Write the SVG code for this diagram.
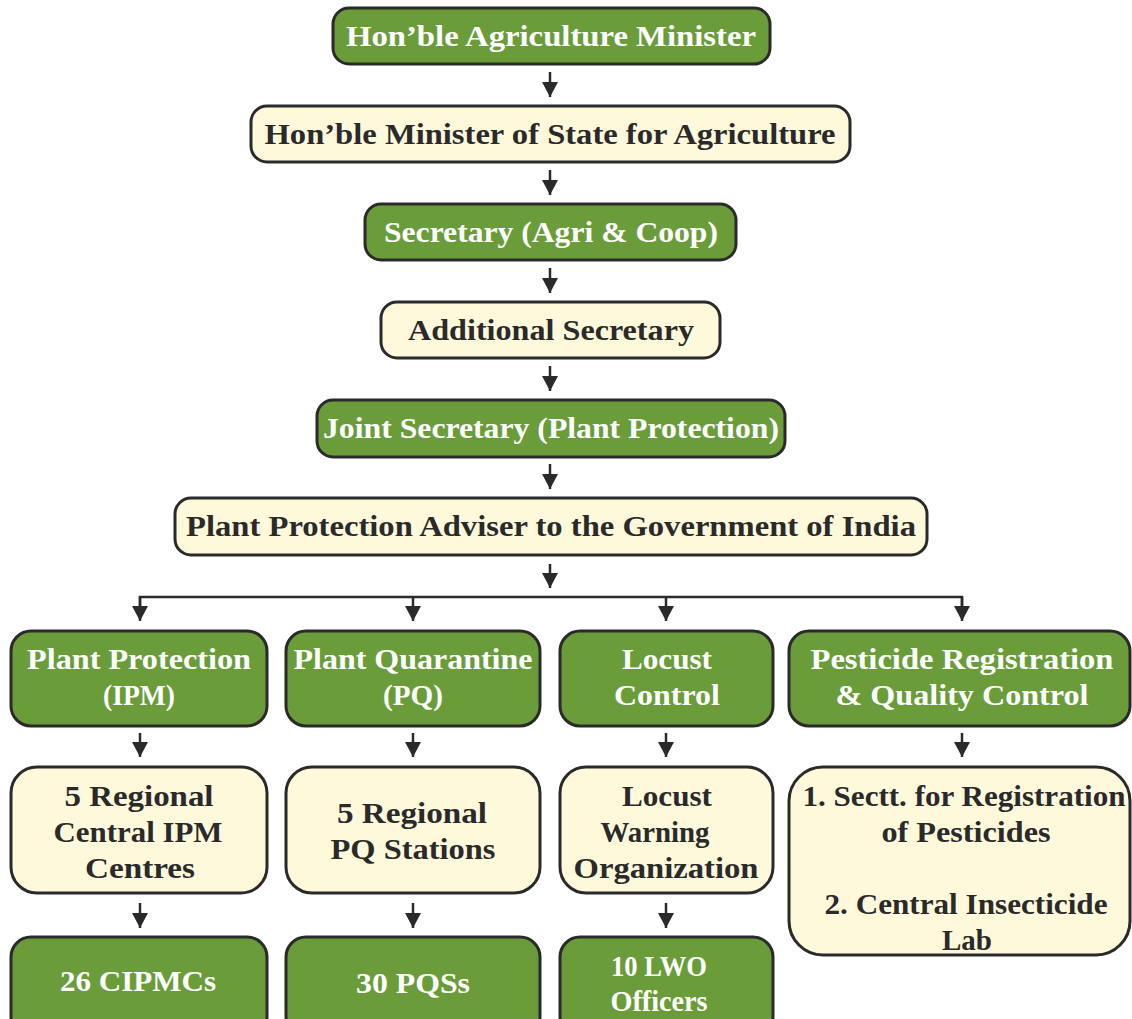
<svg xmlns="http://www.w3.org/2000/svg" width="1132" height="1019" viewBox="0 0 1132 1019">
<defs>
<style>
.g{fill:#6a9c3a;stroke:#2a2a2a;stroke-width:3}
.c{fill:#fff9dc;stroke:#2a2a2a;stroke-width:3}
text{font-family:"Liberation Serif","DejaVu Serif",serif;font-weight:bold;font-size:30px;text-anchor:middle}
.wt{fill:#ffffff}
.dt{fill:#2a2a2a}
.ln{stroke:#2a2a2a;stroke-width:2.5;fill:none}
</style>
<marker id="ah" markerWidth="15" markerHeight="16" viewBox="0 0 15 16" refX="15" refY="8" markerUnits="userSpaceOnUse" orient="auto">
<path d="M0,0 L15,8 L0,16 Z" fill="#2a2a2a"/>
</marker>
</defs>
<rect width="1132" height="1019" fill="#ffffff"/>
<g id="connectors">
<line class="ln" x1="550" y1="72" x2="550" y2="97" marker-end="url(#ah)"/>
<line class="ln" x1="550" y1="170" x2="550" y2="195" marker-end="url(#ah)"/>
<line class="ln" x1="550" y1="268" x2="550" y2="293" marker-end="url(#ah)"/>
<line class="ln" x1="550" y1="366" x2="550" y2="391" marker-end="url(#ah)"/>
<line class="ln" x1="550" y1="464" x2="550" y2="489" marker-end="url(#ah)"/>
<line class="ln" x1="550" y1="564" x2="550" y2="588" marker-end="url(#ah)"/>
<polyline class="ln" points="140,610 140,597 962,597 962,610"/>
<line class="ln" x1="140" y1="597" x2="140" y2="621" marker-end="url(#ah)"/>
<line class="ln" x1="413" y1="597" x2="413" y2="621" marker-end="url(#ah)"/>
<line class="ln" x1="666" y1="597" x2="666" y2="621" marker-end="url(#ah)"/>
<line class="ln" x1="962" y1="597" x2="962" y2="621" marker-end="url(#ah)"/>
<line class="ln" x1="140" y1="733" x2="140" y2="757" marker-end="url(#ah)"/>
<line class="ln" x1="413" y1="733" x2="413" y2="757" marker-end="url(#ah)"/>
<line class="ln" x1="666" y1="733" x2="666" y2="757" marker-end="url(#ah)"/>
<line class="ln" x1="962" y1="733" x2="962" y2="757" marker-end="url(#ah)"/>
<line class="ln" x1="140" y1="903" x2="140" y2="928" marker-end="url(#ah)"/>
<line class="ln" x1="413" y1="903" x2="413" y2="928" marker-end="url(#ah)"/>
<line class="ln" x1="666" y1="903" x2="666" y2="928" marker-end="url(#ah)"/>
</g>
<g id="n1"><rect class="g" x="333" y="8" width="437" height="56" rx="16"/><text class="wt" x="551" y="46" textLength="410" lengthAdjust="spacingAndGlyphs">Hon’ble Agriculture Minister</text></g>
<g id="n2"><rect class="c" x="251" y="106" width="599" height="56" rx="16"/><text class="dt" x="550" y="144" textLength="571" lengthAdjust="spacingAndGlyphs">Hon’ble Minister of State for Agriculture</text></g>
<g id="n3"><rect class="g" x="365" y="204" width="371" height="56" rx="16"/><text class="wt" x="551" y="242" textLength="334" lengthAdjust="spacingAndGlyphs">Secretary (Agri &amp; Coop)</text></g>
<g id="n4"><rect class="c" x="381" y="302" width="339" height="56" rx="16"/><text class="dt" x="551" y="340" textLength="286" lengthAdjust="spacingAndGlyphs">Additional Secretary</text></g>
<g id="n5"><rect class="g" x="317" y="400" width="468" height="57" rx="16"/><text class="wt" x="551" y="438" textLength="456" lengthAdjust="spacingAndGlyphs">Joint Secretary (Plant Protection)</text></g>
<g id="n6"><rect class="c" x="175" y="498" width="752" height="57" rx="16"/><text class="dt" x="551" y="536" textLength="730" lengthAdjust="spacingAndGlyphs">Plant Protection Adviser to the Government of India</text></g>
<g id="a1"><rect class="g" x="11" y="631" width="256" height="95" rx="20"/><text class="wt" x="139" y="669" textLength="224" lengthAdjust="spacingAndGlyphs">Plant Protection</text><text class="wt" x="139" y="705" textLength="72" lengthAdjust="spacingAndGlyphs">(IPM)</text></g>
<g id="b1"><rect class="g" x="286" y="631" width="254" height="95" rx="20"/><text class="wt" x="413" y="669" textLength="239" lengthAdjust="spacingAndGlyphs">Plant Quarantine</text><text class="wt" x="413" y="705" textLength="60" lengthAdjust="spacingAndGlyphs">(PQ)</text></g>
<g id="c1"><rect class="g" x="560" y="631" width="213" height="95" rx="20"/><text class="wt" x="667" y="669" textLength="90" lengthAdjust="spacingAndGlyphs">Locust</text><text class="wt" x="667" y="705" textLength="106" lengthAdjust="spacingAndGlyphs">Control</text></g>
<g id="d1"><rect class="g" x="789" y="631" width="341" height="95" rx="20"/><text class="wt" x="962" y="669" textLength="303" lengthAdjust="spacingAndGlyphs">Pesticide Registration</text><text class="wt" x="962" y="705" textLength="253" lengthAdjust="spacingAndGlyphs">&amp; Quality Control</text></g>
<g id="a2"><rect class="c" x="11" y="767" width="256" height="126" rx="26"/><text class="dt" x="139" y="806" textLength="149" lengthAdjust="spacingAndGlyphs">5 Regional</text><text class="dt" x="138" y="842" textLength="169" lengthAdjust="spacingAndGlyphs">Central IPM</text><text class="dt" x="140" y="878" textLength="110" lengthAdjust="spacingAndGlyphs">Centres</text></g>
<g id="b2"><rect class="c" x="286" y="767" width="254" height="126" rx="26"/><text class="dt" x="412" y="823" textLength="150" lengthAdjust="spacingAndGlyphs">5 Regional</text><text class="dt" x="413" y="859" textLength="165" lengthAdjust="spacingAndGlyphs">PQ Stations</text></g>
<g id="c2"><rect class="c" x="560" y="767" width="213" height="126" rx="26"/><text class="dt" x="667" y="806" textLength="90" lengthAdjust="spacingAndGlyphs">Locust</text><text class="dt" x="655" y="842" textLength="109" lengthAdjust="spacingAndGlyphs">Warning</text><text class="dt" x="666" y="878" textLength="185" lengthAdjust="spacingAndGlyphs">Organization</text></g>
<g id="d2"><rect class="c" x="789" y="767" width="341" height="188" rx="34"/><text class="dt" x="964" y="806" textLength="323" lengthAdjust="spacingAndGlyphs">1. Sectt. for Registration</text><text class="dt" x="966" y="842" textLength="169" lengthAdjust="spacingAndGlyphs">of Pesticides</text><text class="dt" x="966" y="914" textLength="283" lengthAdjust="spacingAndGlyphs">2. Central Insecticide</text><text class="dt" x="967" y="950" textLength="50" lengthAdjust="spacingAndGlyphs">Lab</text></g>
<g id="a3"><rect class="g" x="11" y="937" width="256" height="100" rx="20"/><text class="wt" x="138" y="991" textLength="156" lengthAdjust="spacingAndGlyphs">26 CIPMCs</text></g>
<g id="b3"><rect class="g" x="286" y="937" width="254" height="100" rx="20"/><text class="wt" x="413" y="993" textLength="114" lengthAdjust="spacingAndGlyphs">30 PQSs</text></g>
<g id="c3"><rect class="g" x="560" y="937" width="213" height="100" rx="20"/><text class="wt" x="659" y="976" textLength="96" lengthAdjust="spacingAndGlyphs">10 LWO</text><text class="wt" x="659" y="1011" textLength="97" lengthAdjust="spacingAndGlyphs">Officers</text></g>
</svg>
